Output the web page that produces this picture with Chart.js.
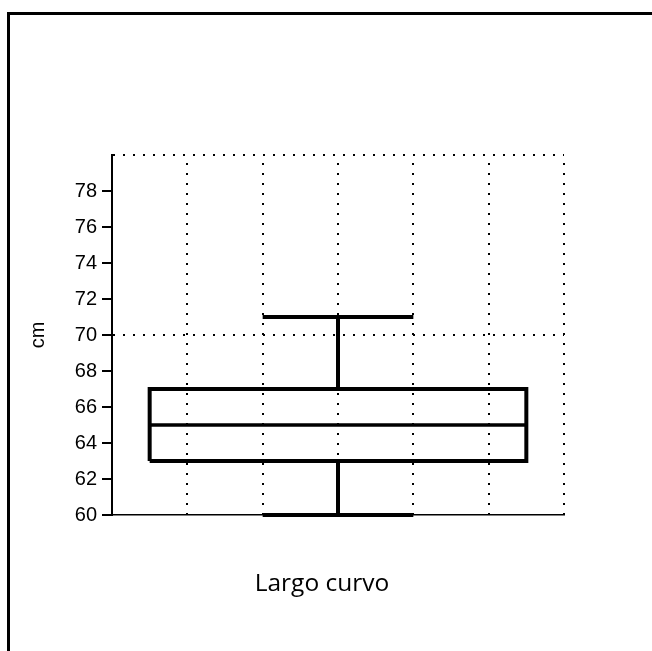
<!DOCTYPE html>
<html>
<head>
<meta charset="utf-8">
<script src="https://cdn.jsdelivr.net/npm/chart.js@4"></script>
<style>
  html, body { margin: 0; padding: 0; background: #fff; overflow: hidden; }
  #frame {
    position: absolute; left: 7px; top: 12px; width: 700px; height: 700px;
    border-left: 3px solid #000; border-top: 3px solid #000;
  }
  #chart { position: absolute; left: 0; top: 0; }
  #catLabel {
    position: absolute; left: 222px; top: 565px; width: 200px; text-align: center;
    font-family: "Open Sans", sans-serif; font-size: 24.5px; color: #000;
  }
</style>
</head>
<body>
<div id="frame"></div>
<canvas id="chart" width="652" height="651"></canvas>
<div id="catLabel"></div>

<script>
const categories = ["Largo curvo"];
const minVals = [60];
const q1Vals = [63];
const medianVals = [65];
const q3Vals = [67];
const maxVals = [71];

const yTickValues = [60, 62, 64, 66, 68, 70, 72, 74, 76, 78, 80];
const yGridValues = [70, 80];
const xGridValues = [0, 1, 2, 3, 4, 5, 6];

// box geometry on the 0..6 x scale
const CENTER = 3;
const BOX_HALF = 2.5;
const CAP_HALF = 1;

document.getElementById("catLabel").textContent = categories[0];

const i = 0;
const seg = (pts, width) => ({
  data: pts.map(p => ({ x: p[0], y: p[1] })),
  borderColor: "#000",
  borderWidth: width,
  pointRadius: 0,
  borderJoinStyle: "miter",
  borderCapStyle: "butt",
  tension: 0,
  clip: false,
  fill: false
});

const datasets = [
  // box
  seg([
    [CENTER - BOX_HALF, q1Vals[i]], [CENTER + BOX_HALF, q1Vals[i]],
    [CENTER + BOX_HALF, q3Vals[i]], [CENTER - BOX_HALF, q3Vals[i]],
    [CENTER - BOX_HALF, q1Vals[i]]
  ], 4),
  // median
  seg([[CENTER - BOX_HALF, medianVals[i]], [CENTER + BOX_HALF, medianVals[i]]], 3.5),
  // upper whisker + cap
  seg([[CENTER, q3Vals[i]], [CENTER, maxVals[i]]], 4),
  seg([[CENTER - CAP_HALF, maxVals[i]], [CENTER + CAP_HALF, maxVals[i]]], 4),
  // lower whisker + cap
  seg([[CENTER, q1Vals[i]], [CENTER, minVals[i]]], 4),
  seg([[CENTER - CAP_HALF, minVals[i]], [CENTER + CAP_HALF, minVals[i]]], 4)
];

const axisFont = "'Liberation Sans', Arial, sans-serif";

new Chart(document.getElementById("chart"), {
  type: "line",
  data: { datasets },
  options: {
    responsive: false,
    animation: false,
    events: [],
    layout: { padding: { left: 8, right: 88, top: 155, bottom: 0 } },
    plugins: { legend: { display: false }, tooltip: { enabled: false } },
    scales: {
      x: {
        type: "linear",
        min: 0,
        max: 6,
        afterBuildTicks: s => { s.ticks = xGridValues.map(v => ({ value: v })); },
        afterFit: s => { s.height = 136; },
        ticks: { display: false },
        grid: {
          drawTicks: false,
          lineWidth: 2,
          color: c => (c.tick && c.tick.value > 0 ? "#000" : "rgba(0,0,0,0)")
        },
        border: { display: true, color: "#000", width: 1.5, dash: [2, 8], dashOffset: 2 }
      },
      y: {
        min: 60,
        max: 80,
        afterBuildTicks: s => { s.ticks = yTickValues.map(v => ({ value: v })); },
        afterFit: s => { s.width = 104; },
        ticks: {
          color: "#000",
          padding: 5,
          font: { family: axisFont, size: 20 },
          callback: v => (v === 80 ? "" : String(v))
        },
        grid: {
          drawTicks: true,
          tickLength: 10,
          tickWidth: 2,
          lineWidth: 2,
          tickColor: c => (c.tick && c.tick.value === 80 ? "rgba(0,0,0,0)" : "#000"),
          color: c => (c.tick && yGridValues.includes(c.tick.value) ? "#000" : "rgba(0,0,0,0)")
        },
        border: { display: true, color: "#000", width: 2, dash: [2, 8] },
        title: {
          display: true,
          text: "cm",
          color: "#000",
          padding: { top: 18, bottom: 0 },
          font: { family: axisFont, size: 20 }
        }
      }
    }
  }
});
</script>
</body>
</html>
